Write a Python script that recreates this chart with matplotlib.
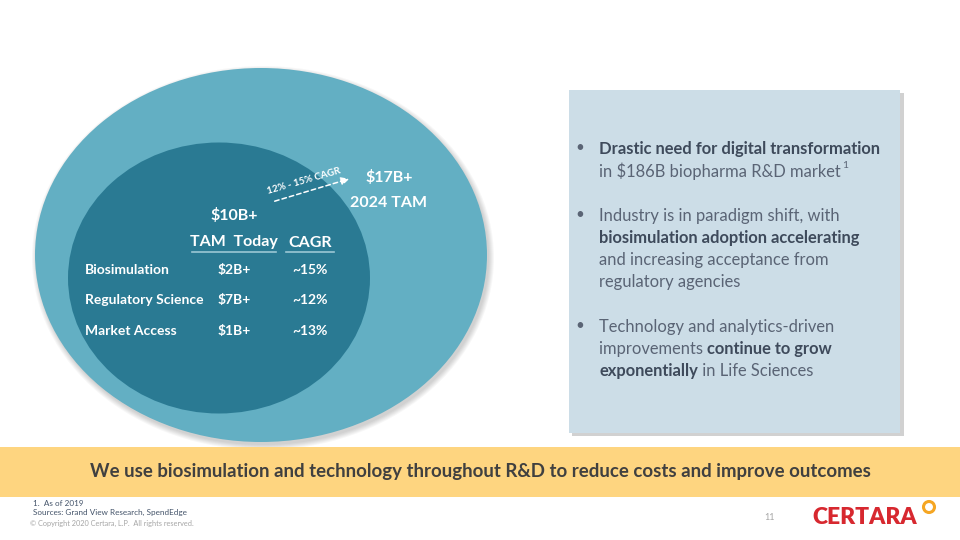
import matplotlib
matplotlib.use('Agg')
import matplotlib.pyplot as plt
from matplotlib.patches import Ellipse, Rectangle

# chart data
segments = ['Biosimulation', 'Regulatory Science', 'Market Access']
tam_today = ['$2B+', '$7B+', '$1B+']
cagr = ['~15%', '~12%', '~13%']
total_today = '$10B+'
total_2024 = '$17B+'
cagr_range = '12% - 15% CAGR'

bullets = [
    [[('Drastic need for digital transformation', 'bold')],
     [('in $186B biopharma R&D market', 'normal'), ('1', 'sup')]],
    [[('Industry is in paradigm shift, with', 'normal')],
     [('biosimulation adoption accelerating', 'bold')],
     [('and increasing acceptance from', 'normal')],
     [('regulatory agencies', 'normal')]],
    [[('Technology and analytics-driven', 'normal')],
     [('improvements ', 'normal'), ('continue to grow', 'bold')],
     [('exponentially', 'bold'), (' in Life Sciences', 'normal')]],
]
banner = 'We use biosimulation and technology throughout R&D to reduce costs and improve outcomes'

plt.rcParams['font.family'] = ['Lato', 'DejaVu Sans']

fig = plt.figure(figsize=(9.6, 5.4), dpi=100)
ax = fig.add_axes([0, 0, 1, 1])
ax.set_xlim(0, 960)
ax.set_ylim(540, 0)
ax.axis('off')

# circles
for i in range(6):
    ax.add_patch(Ellipse((263, 258), 452 + 10 - i * 2, 374 + 10 - i * 2,
                         color='#000000', alpha=0.03, lw=0))
ax.add_patch(Ellipse((261, 255), 452, 374, color='#63AFC3', lw=0))
ax.add_patch(Ellipse((219, 278), 302, 271, color='#2A7A93', lw=0))

white = 'white'
ax.text(234, 215, total_today, color=white, fontsize=11.5, fontweight='bold',
        ha='center', va='center')
ax.text(234, 242, 'TAM  Today', color=white, fontsize=11.5, fontweight='bold',
        ha='center', va='center')
ax.text(310, 243, 'CAGR', color=white, fontsize=11.5, fontweight='bold',
        ha='center', va='center')
ax.plot([192, 276], [252, 252], color='#9CC7D4', lw=1.2)
ax.plot([286, 334], [252, 252], color='#9CC7D4', lw=1.2)

row_y = [270, 300, 331]
for seg, t, c, y in zip(segments, tam_today, cagr, row_y):
    ax.text(85, y, seg, color=white, fontsize=10, fontweight='bold', va='center')
    ax.text(234, y, t, color=white, fontsize=10, fontweight='bold',
            ha='center', va='center')
    ax.text(310, y, c, color=white, fontsize=10, fontweight='bold',
            ha='center', va='center')

ax.text(389, 178, total_2024, color=white, fontsize=11.5, fontweight='bold',
        ha='center', va='center')
ax.text(389, 203, '2024 TAM', color=white, fontsize=11.5, fontweight='bold',
        ha='center', va='center')

ax.annotate('', xy=(352, 178), xytext=(272, 202),
            arrowprops=dict(arrowstyle='-|>', color=white, lw=1.1,
                            linestyle=(0, (3, 2)), mutation_scale=12))
ax.text(304, 181, cagr_range, color=white, fontsize=7, fontweight='bold',
        ha='center', va='center', rotation=16)

# right panel
ax.add_patch(Rectangle((572, 93), 332, 343, color='#000000', alpha=0.18, lw=0))
ax.add_patch(Rectangle((569, 90), 331, 343, color='#CCDDE7', lw=0))

fig.canvas.draw()
renderer = fig.canvas.get_renderer()
inv = ax.transData.inverted()

def draw_runs(x, y, runs, size=11.9):
    for txt, kind in runs:
        if kind == 'sup':
            t = ax.text(x + 1, y - 5, txt, fontsize=size * 0.62,
                        color='#5A6475', va='center')
        else:
            col = '#3E4A5B' if kind == 'bold' else '#5A6475'
            t = ax.text(x, y, txt, fontsize=size, fontweight=kind,
                        color=col, va='center')
        bb = t.get_window_extent(renderer)
        x = inv.transform((bb.x1, bb.y0))[0]

y = 149
for block in bullets:
    ax.text(580, y - 1, '\u2022', fontsize=11, color='#5A6475',
            ha='center', va='center')
    for line in block:
        draw_runs(599, y, line)
        y += 22
    y += 23

# banner
ax.add_patch(Rectangle((0, 447), 960, 50, color='#FED580', lw=0))
ax.text(480, 472, banner, fontsize=13.4, fontweight='bold', color='#404040',
        ha='center', va='center')

# footer
ax.text(33, 503, '1.  As of 2019', fontsize=5.9, color='#44546A', va='center')
ax.text(33, 512, 'Sources: Grand View Research, SpendEdge', fontsize=5.9,
        color='#44546A', va='center')
ax.text(30, 523, '\u00a9 Copyright 2020 Certara, L.P.  All rights reserved.',
        fontsize=5.3, color='#A6A6A6', va='center')
ax.text(770, 518, '11', fontsize=6.5, color='#A6A6A6', ha='center', va='center')
ax.text(812, 518, 'CERTARA', fontsize=16.5, fontweight='heavy', color='#D7282F',
        va='center')
ax.add_patch(Ellipse((929, 507), 11, 11, fill=False, ec='#F5A623', lw=2.2))

fig.savefig('out.png', dpi=100)
